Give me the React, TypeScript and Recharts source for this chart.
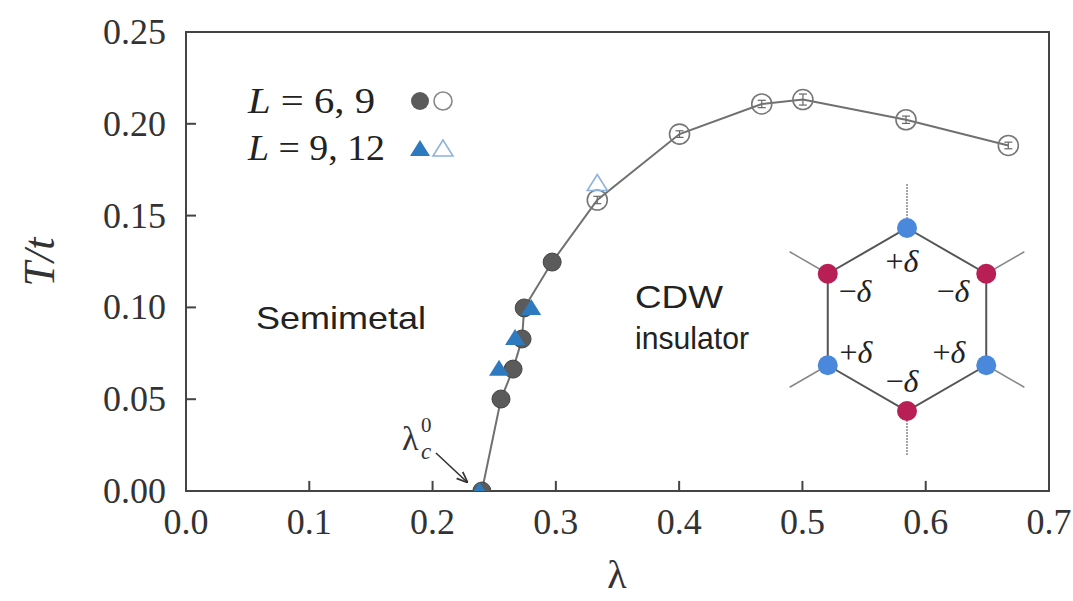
import React from "react";
import {
  ComposedChart,
  Scatter,
  XAxis,
  YAxis,
  ReferenceLine,
  ReferenceArea,
  ErrorBar,
} from "recharts";

// L = 6, 9 (filled: below, open: above)
const lamCircFilled = [0.24, 0.2555, 0.2653, 0.2726, 0.2743, 0.297];
const tCircFilled = [0.0, 0.0501, 0.0664, 0.0828, 0.0997, 0.1247];
const lamCircOpen = [0.3336, 0.4003, 0.467, 0.5004, 0.584, 0.667];
const tCircOpen = [0.1585, 0.1944, 0.2108, 0.2132, 0.2022, 0.1882];
const errCircOpen = [0.002, 0.0018, 0.002, 0.003, 0.002, 0.0018];

// L = 9, 12
const lamTriFilled = [0.238, 0.2539, 0.2669, 0.28];
const tTriFilled = [0.0, 0.0666, 0.0834, 0.0997];
const lamTriOpen = [0.3336];
const tTriOpen = [0.1675];

const xTicks = [0, 0.1, 0.2, 0.3, 0.4, 0.5, 0.6, 0.7];
const yTicks = [0, 0.05, 0.1, 0.15, 0.2, 0.25];

const pts = (xs: number[], ys: number[], es?: number[]) =>
  xs.map((x, i) => ({ x, y: ys[i], e: es ? es[i] : 0 }));

const circFilled = pts(lamCircFilled, tCircFilled);
const circOpen = pts(lamCircOpen, tCircOpen, errCircOpen);
const triFilled = pts(lamTriFilled, tTriFilled);
const triOpen = pts(lamTriOpen, tTriOpen);
const curve = [...circFilled, ...circOpen];

const serif = "'Liberation Serif', 'DejaVu Serif', serif";
const sans = "'Liberation Sans', Arial, sans-serif";
const frame = "#444";

const XTick = (p: any) => (
  <text x={p.x} y={p.y + 43} textAnchor="middle" fontFamily={serif} fontSize={36} fill="#333">
    {Number(p.payload.value).toFixed(1)}
  </text>
);

const YTick = (p: any) => (
  <text x={p.x - 20} y={p.y + 12} textAnchor="end" fontFamily={serif} fontSize={36} fill="#333">
    {Number(p.payload.value).toFixed(2)}
  </text>
);

const noShape = () => <g />;
const dotFilled = (p: any) => (
  <circle cx={p.cx} cy={p.cy} r={9} fill="#5b5b5b" stroke="#444" strokeWidth={1} />
);
const dotOpen = (p: any) => (
  <circle cx={p.cx} cy={p.cy} r={10} fill="none" stroke="#777" strokeWidth={1.6} />
);
const tri = (cx: number, cy: number) =>
  `${cx},${cy - 9} ${cx - 10},${cy + 7} ${cx + 10},${cy + 7}`;
const triFilledShape = (p: any) => <polygon points={tri(p.cx, p.cy)} fill="#2e7abf" />;
const triOpenShape = (p: any) => (
  <polygon points={tri(p.cx, p.cy)} fill="none" stroke="#8fb3dc" strokeWidth={1.6} />
);

function Inset() {
  const cx = 907;
  const cy = 319.5;
  const R = 91.5;
  const dx = R * Math.cos(Math.PI / 6);
  const dy = R / 2;
  const v = [
    [cx, cy - R],
    [cx + dx, cy - dy],
    [cx + dx, cy + dy],
    [cx, cy + R],
    [cx - dx, cy + dy],
    [cx - dx, cy - dy],
  ];
  const colors = ["#4a88dc", "#b81f55", "#4a88dc", "#b81f55", "#4a88dc", "#b81f55"];
  const spoke = 44;
  const labels = [
    { x: 902, y: 272, t: "+" },
    { x: 855, y: 302, t: "−" },
    { x: 953, y: 302, t: "−" },
    { x: 856, y: 363, t: "+" },
    { x: 949, y: 363, t: "+" },
    { x: 902, y: 392, t: "−" },
  ];
  return (
    <g>
      {v.map(([x, y], i) => {
        const ux = (x - cx) / R;
        const uy = (y - cy) / R;
        const vertical = i === 0 || i === 3;
        return (
          <line
            key={"s" + i}
            x1={x}
            y1={y}
            x2={x + ux * spoke}
            y2={y + uy * spoke}
            stroke="#888"
            strokeWidth={1.5}
            strokeDasharray={vertical ? "2 1" : undefined}
          />
        );
      })}
      <polygon points={v.map((p) => p.join(",")).join(" ")} fill="none" stroke="#555" strokeWidth={2} />
      {labels.map((l, i) => (
        <text key={"l" + i} x={l.x} y={l.y} textAnchor="middle" fontFamily={serif} fontSize={32} fill="#222">
          {l.t}
          <tspan fontStyle="italic">δ</tspan>
        </text>
      ))}
      {v.map(([x, y], i) => (
        <circle key={"n" + i} cx={x} cy={y} r={10} fill={colors[i]} />
      ))}
    </g>
  );
}

function Overlay() {
  return (
    <svg
      width={1073}
      height={601}
      style={{ position: "absolute", left: 0, top: 0, pointerEvents: "none" }}
    >
      <defs>
        <marker id="ah" viewBox="0 0 10 10" refX="9" refY="5" markerWidth="7" markerHeight="7" orient="auto">
          <path d="M0,1 L10,5 L0,9" fill="none" stroke="#333" strokeWidth={1.5} />
        </marker>
      </defs>
      {/* axis titles */}
      <text
        transform="translate(54,262) rotate(-90)"
        textAnchor="middle"
        fontFamily={serif}
        fontSize={44}
        fontStyle="italic"
        fill="#333"
      >
        T/t
      </text>
      <text x={617} y={588} textAnchor="middle" fontFamily={serif} fontSize={40} fill="#333">
        λ
      </text>

      {/* legend */}
      <text x={248} y={113} fontFamily={serif} fontSize={36} fill="#222" textLength={127} lengthAdjust="spacingAndGlyphs">
        <tspan fontStyle="italic">L</tspan> = 6, 9
      </text>
      <circle cx={420} cy={101} r={9} fill="#5b5b5b" />
      <circle cx={443} cy={101} r={9} fill="none" stroke="#888" strokeWidth={1.6} />
      <text x={248} y={160} fontFamily={serif} fontSize={36} fill="#222" textLength={137} lengthAdjust="spacingAndGlyphs">
        <tspan fontStyle="italic">L</tspan> = 9, 12
      </text>
      <polygon points={tri(420, 149)} fill="#2e7abf" />
      <polygon points={tri(443, 149)} fill="none" stroke="#8fb3dc" strokeWidth={1.6} />

      {/* region labels */}
      <text x={256} y={329} fontFamily={sans} fontSize={32} fill="#222" textLength={170} lengthAdjust="spacingAndGlyphs">
        Semimetal
      </text>
      <text x={679} y={308} textAnchor="middle" fontFamily={sans} fontSize={32} fill="#222" textLength={88} lengthAdjust="spacingAndGlyphs">
        CDW
      </text>
      <text x={692} y={349} textAnchor="middle" fontFamily={sans} fontSize={32} fill="#222" textLength={114} lengthAdjust="spacingAndGlyphs">
        insulator
      </text>

      {/* lambda_c^0 annotation */}
      <text x={402} y={450} fontFamily={serif} fontSize={34} fill="#333">
        λ
      </text>
      <text x={421} y={432} fontFamily={serif} fontSize={21} fill="#333">
        0
      </text>
      <text x={421} y={459} fontFamily={serif} fontSize={23} fontStyle="italic" fill="#333">
        c
      </text>
      <line x1={436} y1={453} x2={467} y2={482} stroke="#333" strokeWidth={1.6} markerEnd="url(#ah)" />

      <Inset />
    </svg>
  );
}

export default function App() {
  return (
    <div style={{ position: "absolute", left: 0, top: 0, width: 1073, height: 601, background: "#fff" }}>
      <ComposedChart width={1073} height={601} margin={{ top: 32, right: 24, bottom: 0, left: 0 }}>
        <XAxis
          dataKey="x"
          type="number"
          domain={[0, 0.7]}
          ticks={xTicks}
          height={110}
          tickLine={false}
          tickSize={0}
          tickMargin={0}
          tick={<XTick />}
          axisLine={{ stroke: frame, strokeWidth: 2 }}
          allowDataOverflow
        />
        <YAxis
          dataKey="y"
          type="number"
          domain={[0, 0.25]}
          ticks={yTicks}
          width={186}
          tickLine={false}
          tickSize={0}
          tickMargin={0}
          tick={<YTick />}
          axisLine={{ stroke: frame, strokeWidth: 2 }}
          allowDataOverflow
        />

        <ReferenceArea x1={0} x2={0.7} y1={0} y2={0.25} fill="none" stroke={frame} strokeWidth={2} ifOverflow="visible" />

        {xTicks.map((v) => (
          <ReferenceLine key={"xt" + v} segment={[{ x: v, y: 0 }, { x: v, y: 0.0055 }]} stroke={frame} strokeWidth={2} />
        ))}
        {yTicks.map((v) => (
          <ReferenceLine key={"yt" + v} segment={[{ x: 0, y: v }, { x: 0.0081, y: v }]} stroke={frame} strokeWidth={2} />
        ))}

        <Scatter data={curve} line={{ stroke: "#707070", strokeWidth: 2 }} lineType="joint" shape={noShape} isAnimationActive={false} />
        <Scatter data={circFilled} shape={dotFilled} isAnimationActive={false} />
        <Scatter data={circOpen} shape={dotOpen} isAnimationActive={false}>
          <ErrorBar dataKey="e" direction="y" width={4} stroke="#666" strokeWidth={1.2} />
        </Scatter>
        <Scatter data={triFilled} shape={triFilledShape} isAnimationActive={false} />
        <Scatter data={triOpen} shape={triOpenShape} isAnimationActive={false} />
      </ComposedChart>
      <Overlay />
    </div>
  );
}
